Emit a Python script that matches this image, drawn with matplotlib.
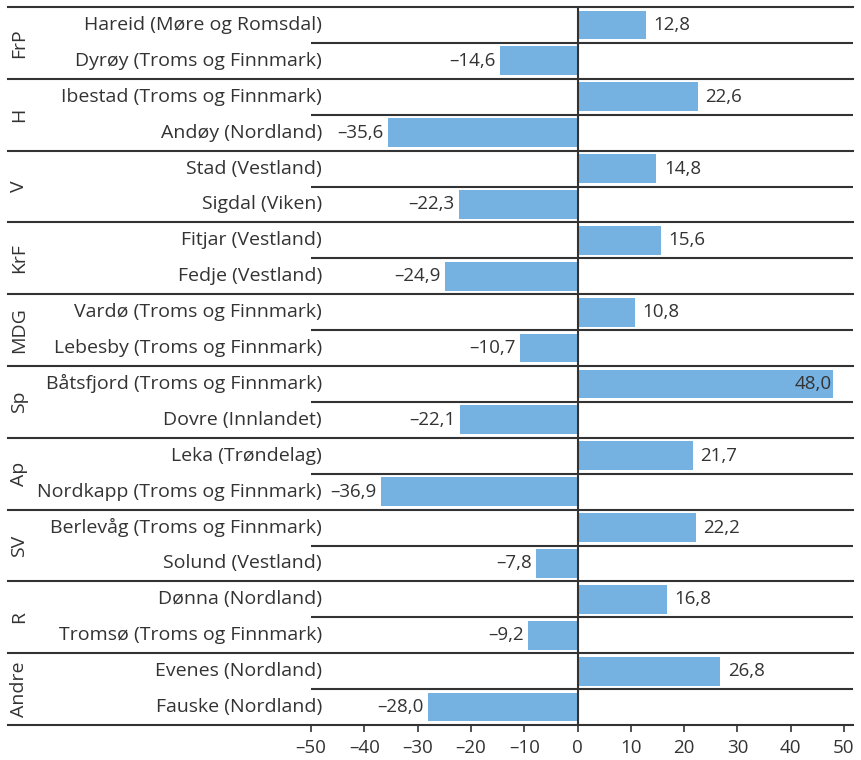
import matplotlib.pyplot as plt

plt.rcParams['font.family'] = ['Open Sans', 'DejaVu Sans']

parties = ['FrP', 'H', 'V', 'KrF', 'MDG', 'Sp', 'Ap', 'SV', 'R', 'Andre']
kommuner = [
    'Hareid (Møre og Romsdal)', 'Dyrøy (Troms og Finnmark)',
    'Ibestad (Troms og Finnmark)', 'Andøy (Nordland)',
    'Stad (Vestland)', 'Sigdal (Viken)',
    'Fitjar (Vestland)', 'Fedje (Vestland)',
    'Vardø (Troms og Finnmark)', 'Lebesby (Troms og Finnmark)',
    'Båtsfjord (Troms og Finnmark)', 'Dovre (Innlandet)',
    'Leka (Trøndelag)', 'Nordkapp (Troms og Finnmark)',
    'Berlevåg (Troms og Finnmark)', 'Solund (Vestland)',
    'Dønna (Nordland)', 'Tromsø (Troms og Finnmark)',
    'Evenes (Nordland)', 'Fauske (Nordland)',
]
verdier = [12.8, -14.6, 22.6, -35.6, 14.8, -22.3, 15.6, -24.9, 10.8, -10.7,
           48.0, -22.1, 21.7, -36.9, 22.2, -7.8, 16.8, -9.2, 26.8, -28.0]
xticks = [-50, -40, -30, -20, -10, 0, 10, 20, 30, 40, 50]

txt = '#333333'
bar_col = '#75b2e2'
line_col = '#333333'
fs_name = 14
fs_val = 13.5

W, H = 861, 760
fig = plt.figure(figsize=(W / 100, H / 100), dpi=100)
left, right, top, bottom = 311, 853, 7, 725
ax = fig.add_axes([left / W, 1 - bottom / H, (right - left) / W, (bottom - top) / H])

n = len(verdier)
ypos = [i + 0.5 for i in range(n)]
ax.barh(ypos, verdier, height=0.8, color=bar_col, zorder=2)
ax.set_xlim(-50, 50 + 50 * 2 * (right - 844) / (844 - left))
ax.set_ylim(n, 0)

def fmt(v, dec=1):
    s = f'{abs(v):.{dec}f}'.replace('.', ',')
    return ('–' + s) if v < 0 else s

for y, v in zip(ypos, verdier):
    if v >= 45:
        ax.text(v - 0.3, y, fmt(v), ha='right', va='center', fontsize=fs_val, color=txt, zorder=3)
    elif v >= 0:
        ax.text(v + 1.4, y, fmt(v), ha='left', va='center', fontsize=fs_val, color=txt, zorder=3)
    else:
        ax.text(v - 0.8, y, fmt(v), ha='right', va='center', fontsize=fs_val, color=txt, zorder=3)

# horisontale linjer
xmin_grp = (8 - left) / (right - left)
for k in range(0, n + 1, 2):
    ax.axhline(k, xmin=xmin_grp, xmax=1, color=line_col, lw=1.5, clip_on=False, zorder=1)
for k in range(1, n, 2):
    ax.axhline(k, color=line_col, lw=1.5, zorder=1)
ax.axvline(0, color=line_col, lw=1.5, zorder=4)

# kommunenavn og partier
for y, name in zip(ypos, kommuner):
    fig.text(322 / W, 1 - (top + y * (bottom - top) / n) / H, name,
             ha='right', va='center', fontsize=fs_name, color=txt)
for g, p in enumerate(parties):
    yc = top + (2 * g + 1) * (bottom - top) / n
    fig.text(19 / W, 1 - yc / H, p, rotation=90, ha='center', va='center',
             fontsize=fs_name, color=txt)

for s in ax.spines.values():
    s.set_visible(False)
ax.set_yticks([])
ax.set_xticks(xticks)
ax.set_xticklabels([fmt(t, 0) if t != 0 else '0' for t in xticks], fontsize=fs_val, color=txt)
ax.tick_params(axis='x', length=5, width=1.2, color=line_col, pad=5)

fig.savefig('out.png', dpi=100)
